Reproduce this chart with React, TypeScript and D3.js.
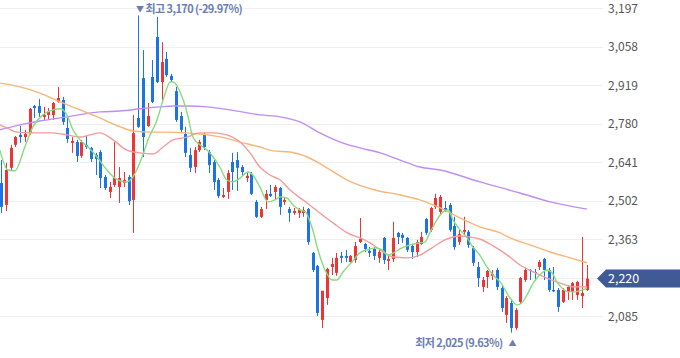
import React from 'react';
import * as d3 from 'd3';

const W = 680;
const H = 358;

const yTicks = [3197, 3058, 2919, 2780, 2641, 2502, 2363, 2224, 2085];

const opens = [
  2565, 2486, 2620, 2703, 2739, 2731, 2746, 2843, 2843, 2804,
  2811, 2811, 2858, 2865, 2764, 2710, 2713, 2663, 2703, 2692,
  2666, 2677, 2587, 2533, 2558, 2551, 2565, 2587, 2504, 2800,
  2944, 2771, 2948, 3092, 2930, 3013, 2952, 2897, 2807, 2742,
  2666, 2623, 2684, 2739, 2677, 2641, 2576, 2515, 2533, 2641,
  2648, 2623, 2583, 2598, 2497, 2443, 2504, 2526, 2533, 2547,
  2497, 2471, 2457, 2457, 2457, 2471, 2313, 2266, 2071, 2150,
  2262, 2241, 2302, 2302, 2280, 2287, 2352, 2345, 2320, 2327,
  2295, 2367, 2284, 2291, 2385, 2378, 2367, 2338, 2316, 2345,
  2435, 2396, 2479, 2461, 2475, 2486, 2410, 2352, 2389, 2389,
  2331, 2262, 2190, 2226, 2230, 2251, 2186, 2089, 2132, 2042,
  2136, 2215, 2251, 2244, 2262, 2291, 2251, 2179, 2179, 2136,
  2172, 2172, 2161, 2157, 2179,
];
const highs = [
  2648, 2638, 2703, 2735, 2771, 2757, 2836, 2847, 2869, 2840,
  2836, 2858, 2912, 2876, 2800, 2731, 2721, 2721, 2735, 2695,
  2674, 2684, 2594, 2569, 2713, 2623, 2605, 2594, 2811, 3170,
  3045, 2854, 3009, 3165, 3074, 3038, 2959, 2912, 2822, 2768,
  2692, 2695, 2721, 2746, 2684, 2648, 2583, 2547, 2612, 2674,
  2677, 2630, 2605, 2605, 2504, 2479, 2540, 2558, 2558, 2551,
  2515, 2479, 2475, 2475, 2479, 2475, 2316, 2269, 2176, 2259,
  2295, 2313, 2316, 2324, 2305, 2352, 2439, 2349, 2334, 2334,
  2327, 2370, 2305, 2425, 2389, 2385, 2370, 2345, 2360, 2389,
  2439, 2479, 2526, 2522, 2500, 2493, 2443, 2396, 2443, 2396,
  2338, 2280, 2226, 2251, 2251, 2259, 2194, 2157, 2143, 2114,
  2226, 2259, 2255, 2255, 2287, 2295, 2259, 2262, 2186, 2186,
  2197, 2208, 2212, 2370, 2269,
];
const lows = [
  2457, 2464, 2612, 2695, 2710, 2713, 2739, 2800, 2804, 2793,
  2793, 2793, 2855, 2775, 2710, 2674, 2641, 2656, 2688, 2641,
  2594, 2547, 2540, 2511, 2551, 2493, 2551, 2486, 2385, 2764,
  2659, 2768, 2854, 2926, 2865, 2948, 2930, 2786, 2749, 2659,
  2605, 2601, 2677, 2684, 2601, 2540, 2511, 2511, 2508, 2540,
  2537, 2591, 2569, 2522, 2439, 2439, 2471, 2515, 2504, 2450,
  2486, 2425, 2450, 2439, 2443, 2342, 2244, 2085, 2042, 2125,
  2233, 2230, 2277, 2280, 2278, 2277, 2349, 2316, 2298, 2287,
  2277, 2273, 2251, 2280, 2345, 2349, 2316, 2291, 2298, 2342,
  2378, 2389, 2471, 2450, 2461, 2389, 2324, 2342, 2378, 2331,
  2266, 2190, 2172, 2186, 2215, 2179, 2100, 2060, 2025, 2035,
  2129, 2208, 2215, 2215, 2251, 2215, 2172, 2172, 2100, 2132,
  2143, 2143, 2143, 2114, 2175,
];
const closes = [
  2479, 2612, 2692, 2731, 2731, 2742, 2833, 2836, 2818, 2811,
  2822, 2854, 2872, 2786, 2724, 2717, 2663, 2713, 2695, 2652,
  2652, 2583, 2547, 2551, 2583, 2583, 2576, 2500, 2745, 2768,
  2731, 2807, 2858, 2930, 3002, 2955, 2937, 2793, 2757, 2674,
  2620, 2684, 2713, 2695, 2630, 2569, 2518, 2522, 2601, 2605,
  2620, 2605, 2591, 2526, 2443, 2471, 2526, 2518, 2551, 2479,
  2504, 2457, 2464, 2468, 2468, 2352, 2251, 2096, 2176, 2255,
  2273, 2295, 2295, 2295, 2302, 2338, 2363, 2327, 2313, 2302,
  2316, 2287, 2291, 2367, 2370, 2367, 2324, 2316, 2352, 2370,
  2385, 2475, 2511, 2515, 2464, 2396, 2334, 2381, 2396, 2342,
  2277, 2222, 2215, 2248, 2237, 2190, 2114, 2150, 2042, 2107,
  2222, 2251, 2248, 2241, 2280, 2251, 2179, 2174, 2118, 2179,
  2190, 2204, 2208, 2168, 2220,
];

// moving averages: [candle index, value]
const ma5: [number, number][] = [
  [-0.4, 2684], [1.3, 2612], [2.8, 2609], [4.9, 2695], [6.6, 2768], [8.7, 2811],
  [10.9, 2829], [12.4, 2833], [13.8, 2811], [15.1, 2757], [16.6, 2721], [18.3, 2695],
  [20.2, 2659], [22.3, 2612], [24.0, 2583], [26.5, 2569], [27.8, 2587], [29.9, 2666],
  [31.0, 2721], [32.9, 2793], [34.2, 2865], [35.7, 2930], [36.3, 2930], [37.8, 2894],
  [39.3, 2818], [40.5, 2731], [42.0, 2703], [43.5, 2684], [44.8, 2659], [46.2, 2623],
  [47.7, 2576], [49.0, 2569], [50.5, 2583], [52.2, 2605], [53.2, 2594], [54.7, 2551],
  [56.4, 2497], [57.9, 2504], [59.0, 2515], [60.4, 2511], [61.7, 2486], [63.2, 2468],
  [64.3, 2462], [65.7, 2407], [67.0, 2324], [68.5, 2251], [70.0, 2215], [71.0, 2215],
  [72.3, 2244], [74.2, 2280], [75.9, 2313], [77.4, 2324], [79.1, 2331], [80.6, 2324],
  [81.8, 2305], [83.3, 2316], [84.8, 2331], [86.5, 2342], [88.6, 2349], [89.7, 2352],
  [90.7, 2385], [92.2, 2432], [93.5, 2461], [94.6, 2468], [95.6, 2432], [97.1, 2396],
  [98.6, 2367], [99.8, 2334], [101.3, 2305], [102.8, 2262], [104.1, 2233], [105.6, 2208],
  [107.7, 2150], [109.2, 2125], [110.2, 2132], [111.3, 2161], [112.6, 2204], [114.0, 2233],
  [115.5, 2251], [116.6, 2241], [117.6, 2208], [118.7, 2186], [120.0, 2172], [121.5, 2172],
  [123.0, 2179], [124.0, 2186],
];
const ma20: [number, number][] = [
  [-0.4, 2775], [1.1, 2764], [3.2, 2749], [6.6, 2746], [10.2, 2746], [13.8, 2739],
  [16.6, 2731], [18.7, 2739], [20.8, 2746], [23.6, 2721], [26.5, 2684], [29.3, 2674],
  [32.1, 2670], [34.2, 2695], [36.3, 2721], [39.3, 2731], [42.0, 2746], [44.8, 2746],
  [47.7, 2739], [50.5, 2713], [52.6, 2674], [54.7, 2623], [56.8, 2594], [59.0, 2576],
  [61.1, 2540], [64.7, 2493], [67.4, 2457], [70.2, 2421], [73.2, 2385], [75.9, 2367],
  [78.7, 2342], [80.8, 2316], [82.9, 2298], [85.9, 2295], [88.6, 2305], [91.4, 2334],
  [93.9, 2360], [97.1, 2374], [99.2, 2370], [101.3, 2363], [104.1, 2338], [107.1, 2305],
  [109.8, 2269], [112.6, 2244], [115.5, 2222], [118.3, 2204], [121.0, 2190], [124.0, 2190],
];
const ma60: [number, number][] = [
  [-0.4, 2926], [3.9, 2912], [8.1, 2890], [12.4, 2858], [16.6, 2829], [20.8, 2800],
  [25.1, 2768], [27.8, 2753], [31.4, 2749], [35.0, 2749], [39.3, 2746], [43.5, 2739],
  [47.3, 2728], [50.5, 2713], [54.7, 2695], [57.5, 2681], [61.1, 2677], [64.7, 2659],
  [68.9, 2620], [73.2, 2576], [79.1, 2540], [84.4, 2522], [88.6, 2504], [92.9, 2475],
  [97.1, 2439], [101.3, 2407], [105.6, 2385], [107.7, 2367], [111.9, 2342], [116.2, 2316],
  [120.4, 2295], [124.0, 2277],
];
const ma120: [number, number][] = [
  [-0.4, 2757], [3.9, 2775], [8.1, 2789], [13.8, 2804], [20.8, 2822], [25.1, 2825],
  [29.3, 2833], [33.5, 2840], [36.3, 2843], [39.3, 2843], [43.5, 2840], [48.4, 2829],
  [54.7, 2811], [59.0, 2804], [63.2, 2786], [67.4, 2746], [71.7, 2713], [75.9, 2692],
  [80.2, 2674], [84.4, 2648], [88.6, 2623], [92.9, 2612], [101.3, 2569], [109.8, 2529],
  [116.2, 2497], [124.0, 2471],
];

const UP = '#ee3434';
const DOWN = '#1b74e4';
const FONT = '"Noto Sans CJK KR", "Noto Sans", sans-serif';

export default function App() {
  const n = closes.length;
  const x = d3.scaleLinear().domain([0, n - 1]).range([1.7, 587]);
  const y = d3.scaleLinear().domain([2085, 3197]).range([316, 8]);
  const line = d3
    .line<[number, number]>()
    .x((d) => x(d[0]))
    .y((d) => y(d[1]))
    .curve(d3.curveMonotoneX);

  const maxHigh = d3.max(highs) as number;
  const minLow = d3.min(lows) as number;
  const iMax = highs.indexOf(maxHigh);
  const iMin = lows.indexOf(minLow);
  const last = closes[n - 1];
  const fmt = d3.format(',');
  const pct = (v: number) => ((last - v) / v) * 100;
  const hiText = `최고 ${fmt(maxHigh)} (${pct(maxHigh).toFixed(2)}%)`;
  const loText = `최저 ${fmt(minLow)} (${pct(minLow).toFixed(2)}%)`;

  const ly = y(last);
  const visibleTicks = yTicks.filter((t) => Math.abs(y(t) - ly) > 10);

  return (
    <svg
      width={W}
      height={H}
      style={{ position: 'absolute', left: 0, top: 0, background: '#fff' }}
      fontFamily={FONT}
    >
      {yTicks.map((t) => (
        <line key={t} x1={0} x2={603} y1={Math.round(y(t)) + 0.5} y2={Math.round(y(t)) + 0.5} stroke="#efefef" strokeWidth={1} />
      ))}
      {visibleTicks.map((t) => (
        <text key={'l' + t} x={608} y={y(t) + 0.5} dy="0.35em" fontSize={12} fill="#555">
          {fmt(t)}
        </text>
      ))}
      {closes.map((c, i) => {
        const o = opens[i];
        const col = c >= o ? UP : DOWN;
        const cx = Math.round(x(i) - 0.5) + 0.5;
        const top = y(Math.max(o, c));
        const bot = y(Math.min(o, c));
        return (
          <g key={i}>
            <line x1={cx} x2={cx} y1={y(highs[i])} y2={y(lows[i])} stroke={col} strokeWidth={1} />
            <rect x={cx - 1.5} y={top} width={3} height={Math.max(1, bot - top)} fill={col} />
          </g>
        );
      })}
      <path d={line(ma120) || ''} fill="none" stroke="#c08cf6" strokeWidth={1.4} />
      <path d={line(ma60) || ''} fill="none" stroke="#f7b57a" strokeWidth={1.4} />
      <path d={line(ma20) || ''} fill="none" stroke="#f59a9a" strokeWidth={1.4} />
      <path d={line(ma5) || ''} fill="none" stroke="#86dc7e" strokeWidth={1.4} />

      <text x={x(iMax) - 2.5} y={9} dy="0.35em" fontSize={8} fill="#6b7db3">
        ▼
      </text>
      <text
        x={x(iMax) + 7}
        y={9}
        dy="0.35em"
        fontSize={11}
        fill="#6b7db3"
        fontWeight={600}
        letterSpacing={-0.6}
      >
        {hiText}
      </text>
      <text
        x={x(iMin) - 9}
        y={343}
        dy="0.35em"
        fontSize={11}
        fill="#6b7db3"
        fontWeight={600}
        textAnchor="end"
        letterSpacing={-0.6}
      >
        {loText}
      </text>
      <text x={x(iMin) - 3} y={343} dy="0.35em" fontSize={8} fill="#6b7db3">
        ▲
      </text>

      <polygon
        points={`597,${ly} 606,${ly - 9} 680,${ly - 9} 680,${ly + 9} 606,${ly + 9}`}
        fill="#3f5a97"
      />
      <text x={608} y={ly} dy="0.36em" fontSize={12.5} fill="#fff">
        {fmt(last)}
      </text>
    </svg>
  );
}
